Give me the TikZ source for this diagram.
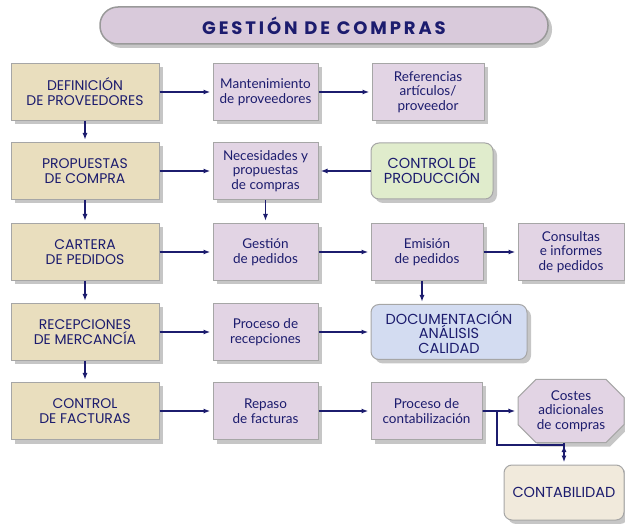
\documentclass[tikz,border=0pt]{standalone}
\usepackage{fontspec}
\setmainfont{Lato}
\newfontfamily\capsfont{Poppins}
\newfontfamily\titlefont{Poppins}[LetterSpace=16]
\usepackage{xcolor}
\usetikzlibrary{arrows.meta,shadows,shapes.misc}

\definecolor{navy}{HTML}{1C1C6E}
\definecolor{tanbox}{HTML}{E9DEBE}
\definecolor{lilac}{HTML}{E2D4E4}
\definecolor{mint}{HTML}{E0ECCC}
\definecolor{skyblue}{HTML}{D3DCF1}
\definecolor{cream}{HTML}{F1EADC}
\definecolor{titlefill}{HTML}{D9CADB}

\begin{document}
\begin{tikzpicture}[-,>={Latex[length=7pt,width=5pt]},x=1pt,y=-1pt,
    shadowed/.style={drop shadow={shadow xshift=4pt,shadow yshift=-4pt,opacity=0.45,fill=gray}},
    main node/.style={shadowed,draw=gray!70,line width=1pt,fill=tanbox,text=navy,align=center,
        minimum width=148pt,minimum height=57pt,font=\capsfont\fontsize{14}{15}\selectfont},
    sub node/.style={shadowed,draw=gray!70,line width=1pt,fill=lilac,text=navy,align=center,
        minimum height=57pt,font=\fontsize{13.5}{14.5}\selectfont},
    round node/.style={shadowed,draw=gray!70,line width=1pt,rounded corners=8pt,text=navy,align=center,
        font=\capsfont\fontsize{14.5}{14.5}\selectfont},
    link/.style={draw=navy,line width=1.6pt}]

    \useasboundingbox (0,0) rectangle (625,524);

    % title
    \node[shadowed,draw=gray!80,line width=1.5pt,fill=titlefill,rounded corners=18pt,
        minimum width=448pt,minimum height=37pt,text=navy,
        font=\titlefont\bfseries\fontsize{18}{18}\selectfont] (0) at (324,25.5) {GESTIÓN DE COMPRAS};

    % left column
    \node[main node] (1) at (85,92) {DEFINICIÓN\\DE PROVEEDORES};
    \node[main node] (4) at (85,171) {PROPUESTAS\\DE COMPRA};
    \node[main node] (7) at (85,252) {CARTERA\\DE PEDIDOS};
    \node[main node] (11) at (85,332) {RECEPCIONES\\DE MERCANCÍA};
    \node[main node] (14) at (85,411) {CONTROL\\DE FACTURAS};

    % processes
    \node[sub node,minimum width=105pt] (2) at (265.5,92) {Mantenimiento\\de proveedores};
    \node[sub node,minimum width=112pt] (3) at (428,92) {Referencias\\artículos/\\proveedor};
    \node[sub node,minimum width=105pt] (5) at (265.5,171) {Necesidades y\\propuestas\\de compras};
    \node[round node,fill=mint,minimum width=122pt,minimum height=56pt] (6) at (432,171) {CONTROL DE\\PRODUCCIÓN};
    \node[sub node,minimum width=105pt] (8) at (265.5,252) {Gestión\\de pedidos};
    \node[sub node,minimum width=112pt] (9) at (427,252) {Emisión\\de pedidos};
    \node[sub node,minimum width=106pt] (10) at (571,252) {Consultas\\e informes\\de pedidos};
    \node[sub node,minimum width=105pt] (12) at (265.5,332) {Proceso de\\recepciones};
    \node[round node,fill=skyblue,minimum width=156pt,minimum height=55pt] (13) at (449,332) {DOCUMENTACIÓN\\ANÁLISIS\\CALIDAD};
    \node[sub node,minimum width=105pt] (15) at (265.5,411) {Repaso\\de facturas};
    \node[sub node,minimum width=111pt] (16) at (426.5,411) {Proceso de\\contabilización};
    \node[sub node,chamfered rectangle,chamfered rectangle xsep=9pt,chamfered rectangle ysep=9pt,
        inner sep=2pt,minimum width=106pt,minimum height=56pt] (17) at (571,411) {Costes\\adicionales\\de compras};
    \node[round node,fill=cream,minimum width=120pt,minimum height=55pt] (18) at (564,492.5) {CONTABILIDAD};

    \coordinate (b) at (497,411);
    \coordinate (j) at (497,445);

    \path[link,->,shorten >=2pt]
        (1) edge (2)
        (2) edge (3)
        (1) edge (4)
        (4) edge (5)
        (6) edge (5)
        (4) edge (7)
        (5) edge (8)
        (7) edge (8)
        (8) edge (9)
        (9) edge (10)
        ([xshift=-5pt]9.south) edge ([xshift=-5pt]9.south |- 13.north)
        (7) edge (11)
        (11) edge (12)
        (12) edge (13)
        (11) edge (14)
        (14) edge (15)
        (15) edge (16)
        (16) edge (17)
        (17.south -| 18.north) edge (18.north)
        ;
    \draw[link] (b) -- (j) -- (j -| 18.north);
\end{tikzpicture}
\end{document}
